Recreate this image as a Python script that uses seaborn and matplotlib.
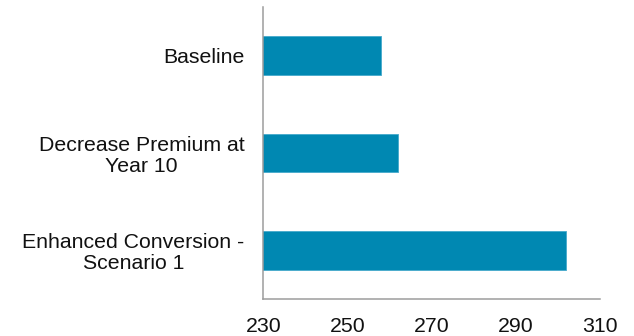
import matplotlib
matplotlib.use("Agg")
import matplotlib.pyplot as plt
import seaborn as sns
import pandas as pd

# Scenario labels and their values
scenarios = [
    "Baseline",
    "Decrease Premium at\nYear 10",
    "Enhanced Conversion -\nScenario 1",
]
values = [258, 262, 302]
x_ticks = [230, 250, 270, 290, 310]

sns.set_theme(style="white")
plt.rcParams["font.family"] = ["Liberation Sans", "DejaVu Sans"]

df = pd.DataFrame({"scenario": scenarios, "value": values})

fig = plt.figure(figsize=(6.34, 3.36), dpi=100)
ax = fig.add_axes([263.3 / 634, 1 - 299 / 336, (600 - 263.3) / 634, (299 - 7) / 336])

sns.barplot(data=df, x="value", y="scenario", orient="h", color="#0088b2",
            saturation=1, width=0.4, edgecolor="#45a9cb", linewidth=0.6, ax=ax)

ax.set_xlim(230, 310)
ax.set_ylim(2.5, -0.5)
ax.set_xticks(x_ticks)
ax.set_xticklabels([str(t) for t in x_ticks])
ax.set_xlabel("")
ax.set_ylabel("")

for s in ("top", "right"):
    ax.spines[s].set_visible(False)
for s in ("left", "bottom"):
    ax.spines[s].set_color("#9c9c9c")
    ax.spines[s].set_linewidth(1.1)

ax.tick_params(axis="both", length=0, labelsize=15.3, colors="#111111")
ax.tick_params(axis="x", pad=13)
ax.tick_params(axis="y", pad=13.5)
for lbl in ax.get_yticklabels():
    lbl.set_multialignment("center")
    lbl.set_linespacing(1.12)

fig.savefig("out.png", dpi=100)
